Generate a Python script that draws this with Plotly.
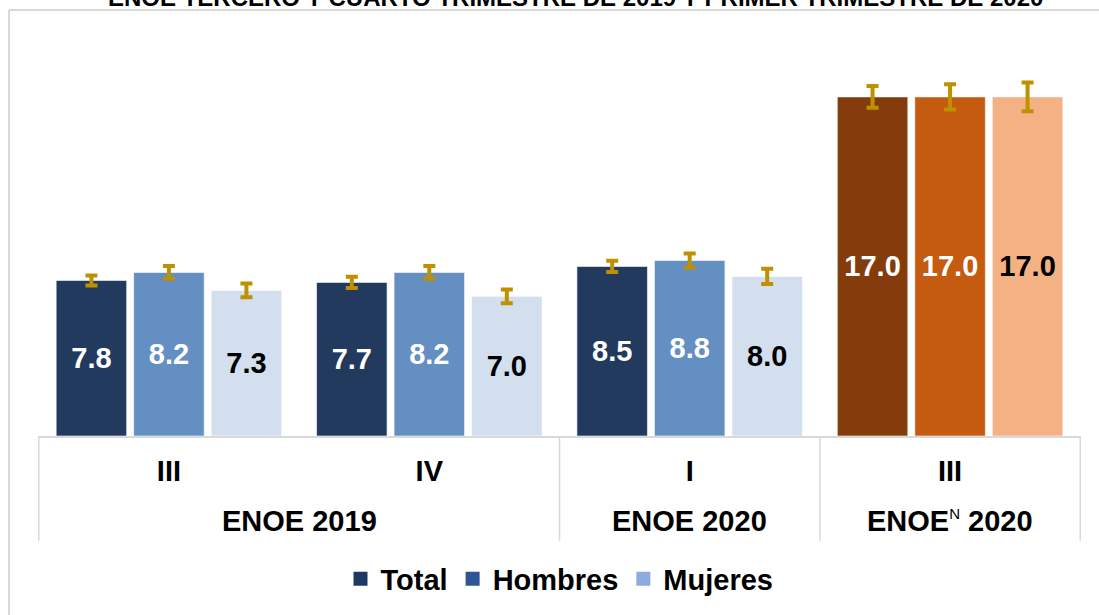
import plotly.graph_objects as go

categories = ["III-2019", "IV-2019", "I-2020", "III-2020"]
quarter_labels = ["III", "IV", "I", "III"]
group_labels = ["ENOE 2019", "ENOE 2020", "ENOE<sup><span style='font-weight:normal;font-size:15px'>N</span></sup> 2020"]
group_pos = [0.5, 2, 3]

series = ["Total", "Hombres", "Mujeres"]
total = [7.8, 7.7, 8.5, 17.0]
hombres = [8.2, 8.2, 8.8, 17.0]
mujeres = [7.3, 7.0, 8.0, 17.0]
err_total = [0.25, 0.28, 0.28, 0.54]
err_hombres = [0.32, 0.32, 0.35, 0.63]
err_mujeres = [0.34, 0.35, 0.38, 0.72]

values = [total, hombres, mujeres]
errors = [err_total, err_hombres, err_mujeres]
bar_colors = [
    ["#223A5E"] * 3 + ["#843C0C"],
    ["#638FC3"] * 3 + ["#C55A11"],
    ["#D3DFEE"] * 3 + ["#F4B183"],
]
text_colors = [
    ["white"] * 4,
    ["white"] * 4,
    ["black"] * 4,
]
legend_colors = ["#203864", "#2F5597", "#8FAADC"]

FONT = "Liberation Sans, Arial, sans-serif"
FS = 29
W, H = 1099, 615
ml, mr, mt, mb = 38, 18, 57, 178
ph = H - mt - mb

fig = go.Figure()
for name, vals, errs, cols, tcols in zip(series, values, errors, bar_colors, text_colors):
    fig.add_trace(go.Bar(
        x=categories, y=vals, name=name, showlegend=False,
        marker=dict(color=cols, line=dict(color="rgba(255,255,255,0.6)", width=1)),
        error_y=dict(type="data", array=errs, visible=True, color="#BF9000", thickness=4, width=6),
        text=[f"{v:.1f}" for v in vals], textposition="inside", insidetextanchor="middle",
        textangle=0, constraintext="none",
        textfont=dict(family=FONT, size=FS, color=tcols, weight="bold"),
        hoverinfo="skip",
    ))
for name, c in zip(series, legend_colors):
    fig.add_trace(go.Scatter(x=[None], y=[None], name=name, mode="markers",
                             marker=dict(color=c, symbol="square", size=14), showlegend=True))

shapes = []
for xv in [-0.5, 1.5, 2.5, 3.5]:
    shapes.append(dict(type="line", xref="x", yref="paper", x0=xv, x1=xv, y0=0,
                       y1=-(542 - (H - mb)) / ph, line=dict(color="#D9D9D9", width=1.5)))
# outer frame (left and top)
fx0 = (9 - ml) / (W - ml - mr)
fy0 = 1 + (mt - 10) / ph
shapes.append(dict(type="line", xref="paper", yref="paper", x0=fx0, x1=fx0, y0=fy0, y1=-1,
                   line=dict(color="#D9D9D9", width=2)))
shapes.append(dict(type="line", xref="paper", yref="paper", x0=fx0, x1=1.2, y0=fy0, y1=fy0,
                   line=dict(color="#D9D9D9", width=2)))

annotations = []
for lab, xp in zip(group_labels, group_pos):
    annotations.append(dict(x=xp, xref="x", y=-(522 - (H - mb)) / ph, yref="paper",
                            text=lab, showarrow=False, yanchor="middle",
                            font=dict(family=FONT, size=FS, color="black", weight="bold")))
annotations.append(dict(x=(575 - ml) / (W - ml - mr), xref="paper", xanchor="center",
                        y=1 + (mt - 13) / ph, yref="paper",
                        yanchor="bottom", showarrow=False,
                        text="ENOE TERCERO Y CUARTO TRIMESTRE DE 2019 Y PRIMER TRIMESTRE DE 2020",
                        font=dict(family=FONT, size=24, color="black", weight="bold")))

fig.update_layout(
    width=W, height=H,
    margin=dict(l=ml, r=mr, t=mt, b=mb),
    paper_bgcolor="white", plot_bgcolor="white",
    barmode="group", bargap=0.107, bargroupgap=0.09,
    xaxis=dict(type="category", categoryorder="array", categoryarray=categories,
               tickvals=categories, ticktext=quarter_labels,
               showline=True, linecolor="#D9D9D9", linewidth=1.5,
               showgrid=False, ticks="", ticklabelstandoff=8,
               tickfont=dict(family=FONT, size=FS, color="black", weight="bold"),
               fixedrange=True),
    yaxis=dict(range=[0, 19], visible=False, fixedrange=True),
    legend=dict(orientation="h", x=0.5, xanchor="center", y=-(579 - (H - mb)) / ph, yanchor="middle",
                font=dict(family=FONT, size=FS, color="black", weight="bold"),
                itemwidth=30, traceorder="normal"),
    shapes=shapes, annotations=annotations,
    showlegend=True,
)

fig.write_html("out.html", config={"displayModeBar": False},
               post_script="document.body.style.margin='0';")
